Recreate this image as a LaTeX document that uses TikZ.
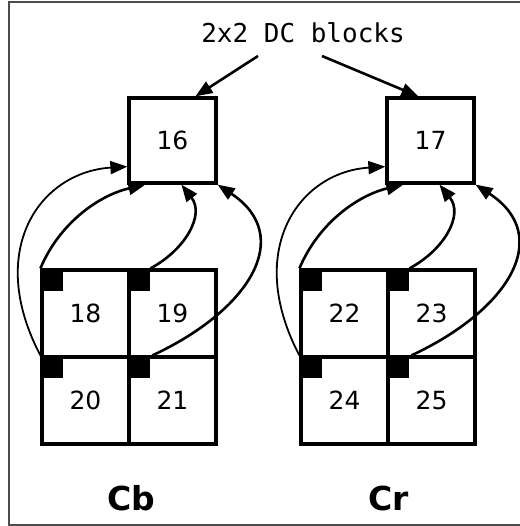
\documentclass[tikz,border=0pt]{standalone}
\usepackage{fontspec}
\setmainfont{DejaVu Sans}
\newfontfamily\monofont{DejaVu Sans Mono}
\usetikzlibrary{arrows.meta,calc}

\begin{document}
\begin{tikzpicture}[x=1pt,y=-1pt,
  dcbox/.style={draw,line width=3.2pt,minimum width=87pt,minimum height=85pt,inner sep=0pt,
    font=\fontsize{25}{25}\selectfont},
  cell/.style={draw,line width=3.2pt,minimum width=87pt,minimum height=87pt,inner sep=0pt,
    font=\fontsize{25}{25}\selectfont},
  conn/.style={line width=2.6pt,-{Triangle[length=17pt,width=13pt]}},
  thin conn/.style={line width=1.8pt,-{Triangle[length=17pt,width=13pt]}},
  tag/.style={font=\fontsize{33}{33}\selectfont\bfseries},
  marker/.style={fill=black}]
\useasboundingbox (0,0) rectangle (519,526);
% outer frame (its right side lies past the page edge)
\draw[line width=1.8pt,black!70] (521,2) -- (9,2) -- (9,525) -- (521,525);

% caption and its two pointers
\node[font=\monofont\fontsize{26}{26}\selectfont] (title) at (303,33) {2x2 DC blocks};
\coordinate (tl) at (258,56);
\coordinate (tr) at (322,56);

% DC blocks
\node[dcbox] (b16) at (172.5,140.5) {16};
\node[dcbox] (b17) at (430.5,140.5) {17};

\draw[conn] (tl) -- ($(b16.north west)+(68,0)$);
\draw[conn] (tr) -- ($(b17.north west)+(33,0)$);

% Cb and Cr macroblock grids, each cell with its DC marker
\foreach \n/\x/\y in {18/85.5/313.5,19/172.5/313.5,20/85.5/400.5,21/172.5/400.5,
                      22/344.5/313.5,23/431.5/313.5,24/344.5/400.5,25/431.5/400.5}{
  \node[cell] (c\n) at (\x,\y) {\n};
  \fill[marker] (c\n.north west) rectangle ++(23,23);
}
\node[tag] (cb) at (131,498) {Cb};
\node[tag] (cr) at (389,498) {Cr};

% DC coefficients gathered into the 2x2 blocks
% Cb
\draw[thin conn] (c20.north west) .. controls (-15,250) and (40,172) .. ($(b16.south west)+(0,-18)$);
\draw[conn] (c18.north west) .. controls (60,222) and (100,195) .. ($(b16.south west)+(18,0)$);
\draw[conn] ($(c19.north west)+(23,0)$) .. controls (185,250) and (205,215) .. ($(b16.south west)+(54,0)$);
\draw[conn] ($(c21.north west)+(25,0)$) .. controls (250,310) and (295,236) .. (b16.south east);
% Cr
\draw[thin conn] (c24.north west) .. controls (244,250) and (299,172) .. ($(b17.south west)+(0,-18)$);
\draw[conn] (c22.north west) .. controls (319,222) and (359,195) .. ($(b17.south west)+(18,0)$);
\draw[conn] ($(c23.north west)+(23,0)$) .. controls (444,250) and (464,215) .. ($(b17.south west)+(54,0)$);
\draw[conn] ($(c25.north west)+(25,0)$) .. controls (509,310) and (554,236) .. (b17.south east);
\end{tikzpicture}
\end{document}
